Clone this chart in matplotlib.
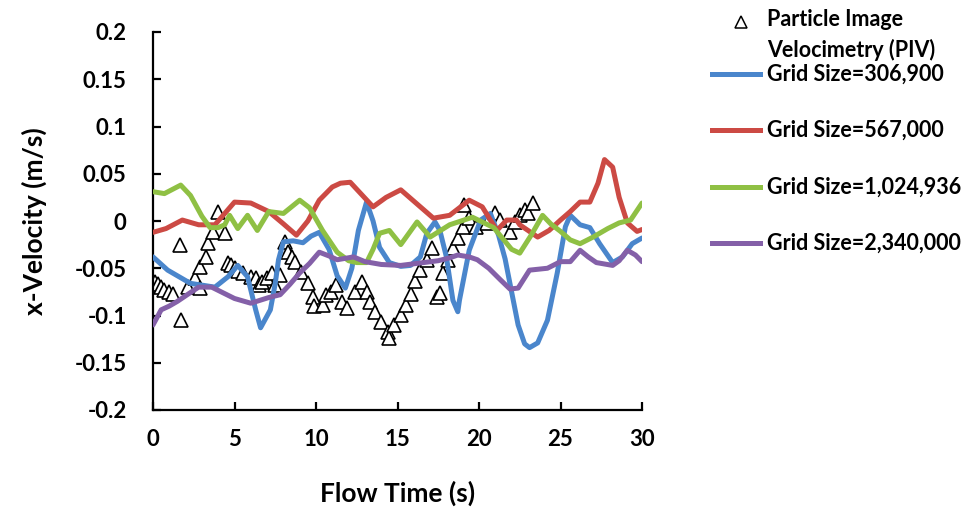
import matplotlib
matplotlib.use("Agg")
import matplotlib.pyplot as plt
from matplotlib.lines import Line2D

plt.rcParams['font.family'] = ['Lato', 'DejaVu Sans']
plt.rcParams['font.weight'] = 'bold'

# ---- PIV measurements ----
piv_t = [0.1, 0.3, 0.5, 0.7, 1.0, 1.2, 1.66, 1.7,
         2.15, 2.6, 2.9, 2.9, 3.25, 3.4, 3.7, 4.0, 4.4,
         4.6, 4.8, 5.0, 5.2, 5.5, 6.0, 6.3,
         6.5, 6.7, 7.0, 7.3, 7.5, 7.8,
         8.1, 8.3, 8.5, 8.7, 9.1, 9.5, 9.8, 9.9,
         10.4, 10.6, 10.9, 11.2, 11.6, 11.9,
         12.4, 12.8, 13.1, 13.3, 13.6, 14.0, 14.4, 14.5,
         14.8, 15.2, 15.5, 15.8, 16.1, 16.4, 16.8, 17.1,
         17.4, 17.6, 17.8, 18.1, 18.4, 18.7, 19.0, 19.1, 19.4, 19.8,
         20.5, 21.0, 21.3, 21.9, 22.2, 22.5, 22.8, 23.0, 23.3]
piv_v = [-0.065, -0.067, -0.070, -0.073, -0.075, -0.077, -0.025, -0.105,
         -0.070, -0.060, -0.049, -0.071, -0.038, -0.023, -0.012, 0.010, -0.013,
         -0.044, -0.047, -0.050, -0.053, -0.055, -0.059, -0.060,
         -0.068, -0.065, -0.060, -0.055, -0.068, -0.057,
         -0.022, -0.033, -0.038, -0.043, -0.054, -0.066, -0.080, -0.090,
         -0.089, -0.078, -0.075, -0.068, -0.086, -0.092,
         -0.075, -0.065, -0.075, -0.086, -0.096, -0.107, -0.117, -0.124,
         -0.110, -0.099, -0.089, -0.077, -0.063, -0.052, -0.041, -0.029,
         -0.080, -0.076, -0.055, -0.041, -0.029, -0.018, -0.006, 0.017, 0.003, -0.006,
         -0.002, 0.008, 0.001, -0.012, -0.001, 0.006, 0.012, 0.008, 0.019]

# ---- CFD, grid 306,900 ----
g1_t = [0, 0.9, 2.3, 3.8, 4.6, 5.2, 5.8, 6.3, 6.6, 7.2, 7.5, 7.7, 8.0, 8.6, 9.2, 9.7,
        10.2, 10.8, 11.3, 11.8, 12.2, 12.6, 13.1, 13.5, 13.9, 14.5, 15.2, 15.8,
        16.4, 16.8, 17.3, 17.6, 18.0, 18.4, 18.7, 18.8, 19.4, 20.1, 20.7, 21.2,
        21.6, 22.0, 22.4, 22.8, 23.1, 23.6, 24.2, 24.8, 25.3, 25.6, 26.2, 26.8,
        27.4, 28.2, 28.8, 29.4, 30]
g1_v = [-0.038, -0.052, -0.066, -0.070, -0.059, -0.047, -0.059, -0.094, -0.113, -0.094, -0.066, -0.041,
        -0.022, -0.021, -0.023, -0.016, -0.012, -0.030, -0.058, -0.071, -0.050, -0.010, 0.020, 0.000,
        -0.028, -0.044, -0.048, -0.047, -0.038, -0.013, -0.001, -0.010, -0.038, -0.084, -0.096, -0.084,
        -0.031, 0.001, 0.008, -0.015, -0.040, -0.075, -0.110, -0.130, -0.134, -0.129, -0.105, -0.055,
        -0.006, 0.006, -0.004, -0.007, -0.024, -0.044, -0.038, -0.024, -0.018]

# ---- CFD, grid 567,000 ----
g2_t = [0, 0.8, 1.8, 2.8, 3.8, 4.4, 5.0, 6.0, 7.1, 8.0, 8.8, 9.5, 10.2, 11.0, 11.5, 12.1,
        12.8, 13.5, 14.3, 15.2, 16.2, 17.2, 18.2, 19.4, 20.2, 20.7, 21.1, 21.7, 22.3, 22.5,
        23.6, 24.3, 25.0, 25.6, 26.2, 26.8, 27.3, 27.7, 28.2, 28.6, 29.1, 29.7, 30]
g2_v = [-0.012, -0.008, 0.001, -0.004, -0.004, 0.008, 0.020, 0.019, 0.010, -0.003, -0.015, 0.000,
        0.022, 0.036, 0.040, 0.041, 0.028, 0.015, 0.025, 0.033, 0.018, 0.003, 0.006, 0.022,
        0.015, 0.001, -0.010, 0.001, 0.001, -0.004, -0.017, -0.010, 0.001, 0.010, 0.020, 0.020,
        0.040, 0.065, 0.057, 0.025, -0.002, -0.011, -0.009]

# ---- CFD, grid 1,024,936 ----
g3_t = [0, 0.7, 1.7, 2.3, 3.0, 3.5, 4.0, 4.4, 4.7, 5.2, 5.8, 6.4, 7.1, 8.0, 9.0, 9.6,
        10.4, 11.3, 12.0, 12.5, 13.1, 13.5, 13.9, 14.5, 15.2, 16.2, 17.0, 18.2, 19.6, 20.9,
        22.0, 22.5, 23.2, 23.9, 24.4, 25.0, 25.6, 26.2, 27.0, 27.9, 28.6, 29.3, 30]
g3_v = [0.031, 0.029, 0.038, 0.027, 0.005, -0.007, -0.007, -0.004, 0.006, -0.008, 0.006, -0.010,
        0.010, 0.008, 0.022, 0.014, -0.010, -0.033, -0.042, -0.044, -0.044, -0.030, -0.013, -0.010,
        -0.025, -0.001, -0.017, -0.004, 0.004, -0.007, -0.030, -0.034, -0.015, 0.006, -0.003, -0.011,
        -0.020, -0.024, -0.017, -0.008, -0.002, 0.001, 0.019]

# ---- CFD, grid 2,340,000 ----
g4_t = [0, 0.5, 1.0, 1.5, 2.1, 2.8, 3.6, 4.3, 5.0, 6.0, 7.1, 7.8, 8.4, 9.0, 9.6, 10.2,
        10.8, 11.3, 12.3, 13.0, 14.0, 15.2, 16.6, 17.5, 18.2, 18.7, 19.4, 19.9, 20.6, 21.3,
        21.9, 22.4, 23.1, 24.2, 25.0, 25.6, 26.2, 26.7, 27.2, 28.2, 28.6, 29.1, 29.6, 30]
g4_v = [-0.110, -0.094, -0.090, -0.085, -0.078, -0.070, -0.070, -0.076, -0.082, -0.087, -0.081, -0.078,
        -0.067, -0.055, -0.045, -0.033, -0.037, -0.041, -0.038, -0.043, -0.046, -0.047, -0.044, -0.042,
        -0.039, -0.036, -0.038, -0.041, -0.050, -0.062, -0.072, -0.071, -0.052, -0.050, -0.043, -0.043,
        -0.031, -0.038, -0.044, -0.047, -0.042, -0.031, -0.036, -0.043]

series = [
    (g1_t, g1_v, '#4a86cc', 'Grid Size=306,900'),
    (g2_t, g2_v, '#cc4a44', 'Grid Size=567,000'),
    (g3_t, g3_v, '#8fc044', 'Grid Size=1,024,936'),
    (g4_t, g4_v, '#8460a8', 'Grid Size=2,340,000'),
]

fig = plt.figure(figsize=(9.74, 5.12), dpi=100)
ax = fig.add_axes([153 / 974, 1 - 410 / 512, (642 - 153) / 974, (410 - 32) / 512])

ax.plot(piv_t, piv_v, linestyle='none', marker='^', markersize=10.5,
        markerfacecolor='white', markeredgecolor='black', markeredgewidth=1.2, zorder=2)
for t, v, c, lab in series:
    ax.plot(t, v, color=c, linewidth=3.6, solid_joinstyle='round',
            solid_capstyle='round', zorder=3)

ax.set_xlim(0, 30)
ax.set_ylim(-0.2, 0.2)
ax.set_xticks([0, 5, 10, 15, 20, 25, 30])
yt = [0.2, 0.15, 0.1, 0.05, 0, -0.05, -0.1, -0.15, -0.2]
ax.set_yticks(yt)
ax.set_yticklabels(['%g' % v for v in yt])
for s in ['top', 'right']:
    ax.spines[s].set_visible(False)
for s in ['left', 'bottom']:
    ax.spines[s].set_linewidth(1.6)
ax.tick_params(direction='in', length=6, width=1.6, labelsize=16)
ax.tick_params(axis='y', pad=19)
ax.tick_params(axis='x', pad=14)
for lbl in ax.get_xticklabels() + ax.get_yticklabels():
    lbl.set_fontweight('bold')

ax.set_xlabel('Flow Time (s)', fontsize=19, fontweight='bold', labelpad=22)
ax.set_ylabel('x-Velocity (m/s)', fontsize=19, fontweight='bold', labelpad=20)

# legend drawn beside the axes
def fx(px):
    return px / 974

def fy(py):
    return 1 - py / 512

fig.add_artist(Line2D([fx(741)], [fy(22)], linestyle='none', marker='^', markersize=9,
                      markerfacecolor='white', markeredgecolor='black',
                      markeredgewidth=1.1, transform=fig.transFigure))
fig.text(fx(767), fy(20), 'Particle Image', fontsize=15.5, fontweight='bold', va='center')
fig.text(fx(767), fy(50), 'Velocimetry (PIV)', fontsize=15.5, fontweight='bold', va='center')
for (t, v, c, lab), py in zip(series, [74, 130, 187, 243]):
    fig.add_artist(Line2D([fx(712), fx(760)], [fy(py), fy(py)], color=c, linewidth=3.6,
                          transform=fig.transFigure))
    fig.text(fx(767), fy(py), lab, fontsize=15.5, fontweight='bold', va='center')

fig.savefig('out.png', dpi=100)
